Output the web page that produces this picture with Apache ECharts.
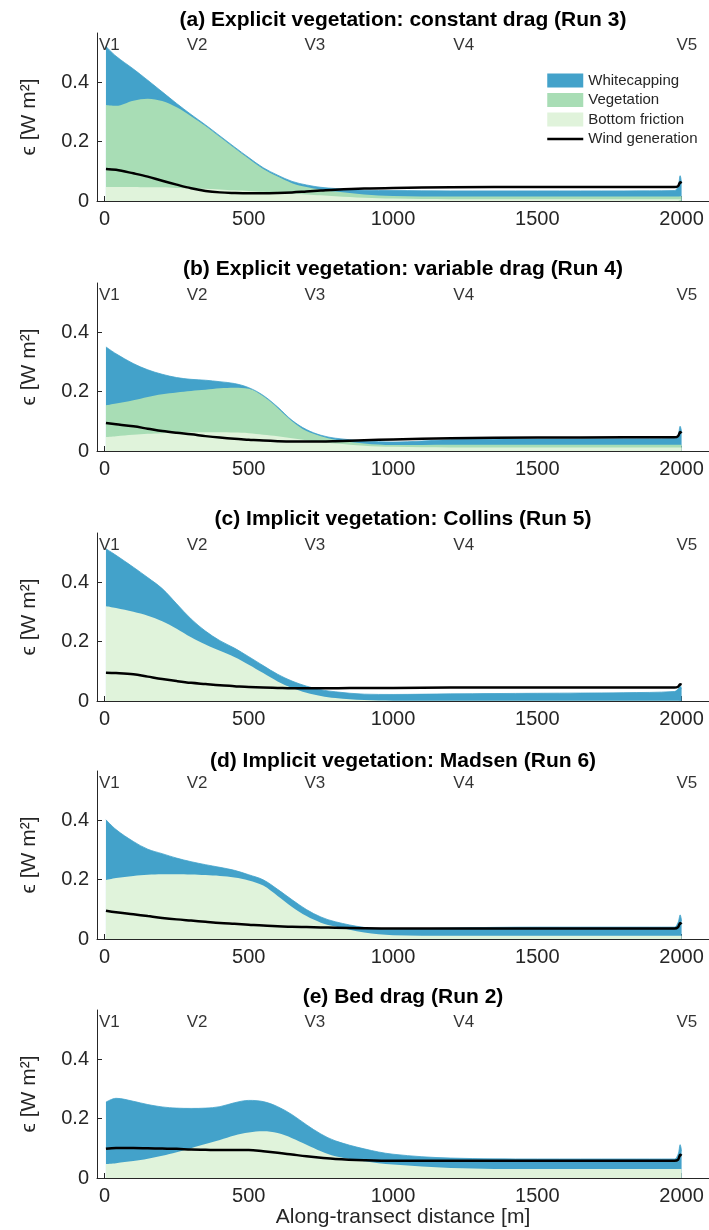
<!DOCTYPE html>
<html><head><meta charset="utf-8">
<script src="https://cdn.jsdelivr.net/npm/echarts@6/dist/echarts.min.js"></script>
<style>html,body{margin:0;padding:0;background:#fff}#c{width:709px;height:1230px}</style>
</head><body><div id="c"></div>
<script>
// along-transect distance [m]
const distance = [5, 40, 100, 150, 200, 250, 300, 350, 400, 450, 500, 550, 600, 650, 700, 750, 800, 900, 1000, 1200, 1500, 1800, 1975, 1988, 1995, 2000];

const panelTitles = [
  '(a) Explicit vegetation: constant drag (Run 3)',
  '(b) Explicit vegetation: variable drag (Run 4)',
  '(c) Implicit vegetation: Collins (Run 5)',
  '(d) Implicit vegetation: Madsen (Run 6)',
  '(e) Bed drag (Run 2)'
];

const stationNames = ['V1', 'V2', 'V3', 'V4', 'V5'];
const stationX = [17, 321, 729, 1245, 2018];
const stationY = 0.522;

const xTicks = [0, 500, 1000, 1500, 2000];
const yTicks = [0, 0.2, 0.4];

// (a) Run 3
const bfA   = [0.047,0.047,0.047,0.046,0.046,0.044,0.043,0.041,0.039,0.036,0.034,0.031,0.028,0.025,0.022,0.019,0.016,0.011,0.008,0.006,0.006,0.006,0.006,0.006,0.006,0.006];
const vegA  = [0.276,0.273,0.290,0.298,0.290,0.271,0.242,0.211,0.176,0.142,0.108,0.077,0.054,0.035,0.025,0.019,0.016,0.011,0.009,0.009,0.009,0.009,0.009,0.009,0.010,0.010];
const wcA   = [0.197,0.167,0.107,0.062,0.031,0.013,0.006,0.004,0.004,0.004,0.004,0.004,0.005,0.006,0.007,0.008,0.010,0.014,0.018,0.019,0.019,0.019,0.020,0.035,0.069,0.044];
const windA = [0.108,0.105,0.093,0.082,0.068,0.055,0.043,0.034,0.029,0.027,0.026,0.026,0.027,0.029,0.032,0.035,0.038,0.042,0.044,0.046,0.047,0.047,0.047,0.050,0.063,0.060];

// (b) Run 4
const bfB   = [0.047,0.050,0.055,0.058,0.060,0.062,0.063,0.063,0.063,0.062,0.060,0.055,0.050,0.043,0.036,0.030,0.025,0.018,0.014,0.012,0.012,0.012,0.012,0.012,0.012,0.012];
const vegB  = [0.107,0.110,0.116,0.124,0.131,0.135,0.139,0.143,0.148,0.151,0.149,0.129,0.095,0.057,0.031,0.020,0.013,0.007,0.006,0.009,0.009,0.009,0.009,0.009,0.009,0.009];
const wcB   = [0.196,0.167,0.123,0.091,0.067,0.050,0.039,0.032,0.022,0.014,0.004,0.003,0.003,0.003,0.005,0.003,0.005,0.009,0.010,0.017,0.019,0.020,0.021,0.034,0.062,0.044];
const windB = [0.094,0.090,0.083,0.075,0.067,0.061,0.056,0.050,0.045,0.041,0.038,0.035,0.033,0.032,0.032,0.032,0.033,0.036,0.039,0.043,0.045,0.046,0.046,0.050,0.064,0.060];

// (c) Run 5
const bfC   = [0.319,0.313,0.300,0.287,0.268,0.243,0.214,0.190,0.169,0.148,0.122,0.094,0.066,0.044,0.028,0.017,0.010,0.003,0.001,0.001,0.001,0.001,0.001,0.001,0.001,0.001];
const wcC   = [0.193,0.177,0.150,0.128,0.110,0.084,0.062,0.045,0.034,0.030,0.027,0.025,0.024,0.023,0.022,0.021,0.021,0.020,0.021,0.023,0.025,0.027,0.031,0.039,0.051,0.039];
const windC = [0.095,0.094,0.090,0.082,0.074,0.067,0.061,0.057,0.053,0.050,0.047,0.045,0.044,0.043,0.043,0.043,0.043,0.044,0.044,0.045,0.045,0.045,0.045,0.048,0.056,0.054];

// (d) Run 6
const bfD   = [0.198,0.205,0.212,0.216,0.218,0.218,0.217,0.215,0.212,0.207,0.197,0.180,0.145,0.108,0.077,0.055,0.042,0.022,0.013,0.011,0.011,0.011,0.011,0.011,0.011,0.011];
const wcD   = [0.203,0.163,0.116,0.086,0.069,0.054,0.043,0.035,0.029,0.024,0.019,0.019,0.022,0.024,0.022,0.019,0.016,0.017,0.020,0.026,0.029,0.029,0.029,0.045,0.070,0.050];
const windD = [0.095,0.090,0.083,0.077,0.071,0.066,0.062,0.058,0.054,0.051,0.048,0.045,0.043,0.041,0.040,0.039,0.038,0.036,0.035,0.035,0.035,0.035,0.035,0.040,0.054,0.050];

// (e) Run 2
const bfE   = [0.047,0.050,0.057,0.065,0.075,0.087,0.100,0.114,0.128,0.143,0.153,0.157,0.151,0.134,0.112,0.090,0.073,0.056,0.045,0.034,0.030,0.030,0.030,0.030,0.030,0.030];
const wcE   = [0.208,0.218,0.201,0.182,0.164,0.148,0.134,0.121,0.112,0.110,0.108,0.100,0.089,0.079,0.067,0.058,0.052,0.042,0.035,0.033,0.034,0.034,0.034,0.050,0.082,0.060];
const windE = [0.098,0.101,0.101,0.100,0.099,0.098,0.096,0.095,0.094,0.094,0.094,0.090,0.085,0.079,0.073,0.068,0.064,0.060,0.058,0.058,0.058,0.058,0.058,0.062,0.078,0.075];

const panels = [
  {bf: bfA, veg: vegA, wc: wcA, wind: windA},
  {bf: bfB, veg: vegB, wc: wcB, wind: windB},
  {bf: bfC, veg: null, wc: wcC, wind: windC},
  {bf: bfD, veg: null, wc: wcD, wind: windD},
  {bf: bfE, veg: null, wc: wcE, wind: windE}
];

const COL_WC = '#43a2ca', COL_VEG = '#a8ddb5', COL_BF = '#e0f3db';
const FONT = "'Liberation Sans', Arial, Helvetica, sans-serif";
const gridTops = [33, 283, 533, 771, 1010];
const titleTops = [9, 258, 508, 750, 986];
const gridH = 168;

// cumulative (stacked) tops built from the component arrays
const cum = arrs => distance.map((x, i) => [x, arrs.reduce((s, a) => s + (a ? a[i] : 0), 0)]);

const option = {
  animation: false,
  backgroundColor: '#fff',
  textStyle: {fontFamily: FONT},
  title: [], grid: [], xAxis: [], yAxis: [], series: [],
  legend: {
    orient: 'vertical', left: 546, top: 73, padding: 0,
    itemWidth: 36, itemHeight: 14, itemGap: 4.5,
    textStyle: {fontSize: 15, color: '#262626', lineHeight: 14, fontFamily: FONT},
    data: [
      {name: 'Whitecapping', icon: 'rect'},
      {name: 'Vegetation', icon: 'rect'},
      {name: 'Bottom friction', icon: 'rect'},
      {name: 'Wind generation', itemStyle: {opacity: 0}, lineStyle: {color: '#000', width: 2.5}}
    ]
  }
};

panels.forEach((p, i) => {
  option.title.push({
    text: panelTitles[i], left: 403, top: titleTops[i], textAlign: 'center', padding: 0,
    textStyle: {fontSize: 21, fontWeight: 'bold', color: '#000', lineHeight: 22, fontFamily: FONT}
  });
  option.grid.push({left: 97, right: 0, top: gridTops[i], height: gridH, containLabel: false});
  option.xAxis.push({
    type: 'value', gridIndex: i, min: -26, max: 2095,
    name: i === 4 ? 'Along-transect distance [m]' : '',
    nameLocation: 'middle', nameGap: 29,
    nameTextStyle: {fontSize: 21, color: '#262626', fontFamily: FONT},
    axisLine: {show: true, onZero: false, lineStyle: {color: '#262626', width: 1}},
    axisTick: {show: true, inside: true, length: 5, customValues: xTicks, lineStyle: {color: '#262626'}},
    axisLabel: {show: true, customValues: xTicks, margin: 8, fontSize: 20, color: '#262626', fontFamily: FONT,
      formatter: v => String(v)},
    splitLine: {show: false}
  });
  option.yAxis.push({
    type: 'value', gridIndex: i, min: 0, max: 0.565,
    name: 'ϵ [W m²]', nameLocation: 'middle', nameGap: 57, nameRotate: 90, nameMoveOverlap: false,
    nameTextStyle: {fontSize: 21, color: '#262626', fontFamily: FONT},
    axisLine: {show: true, onZero: false, lineStyle: {color: '#262626', width: 1}},
    axisTick: {show: true, inside: true, length: 5, customValues: yTicks, lineStyle: {color: '#262626'}},
    axisLabel: {show: true, customValues: yTicks, margin: 8, fontSize: 20, color: '#262626', fontFamily: FONT,
      formatter: v => String(v)},
    splitLine: {show: false}
  });
  const areaBase = {
    type: 'line', xAxisIndex: i, yAxisIndex: i,
    smooth: 0.35, showSymbol: false, symbol: 'none', silent: true
  };
  // whitecapping (top of stack) first, then lower layers drawn over it
  option.series.push(Object.assign({}, areaBase, {
    name: 'Whitecapping', data: cum([p.bf, p.veg, p.wc]), color: COL_WC,
    itemStyle: {color: COL_WC}, lineStyle: {width: 0.8, color: COL_WC},
    areaStyle: {color: COL_WC, opacity: 1, origin: 'start'}, z: 2
  }));
  if (p.veg) {
    option.series.push(Object.assign({}, areaBase, {
      name: 'Vegetation', data: cum([p.bf, p.veg]), color: COL_VEG,
      itemStyle: {color: COL_VEG}, lineStyle: {width: 0, color: COL_VEG},
      areaStyle: {color: COL_VEG, opacity: 1, origin: 'start'}, z: 3
    }));
  }
  option.series.push(Object.assign({}, areaBase, {
    name: 'Bottom friction', data: cum([p.bf]), color: COL_BF,
    itemStyle: {color: COL_BF}, lineStyle: {width: 0, color: COL_BF},
    areaStyle: {color: COL_BF, opacity: 1, origin: 'start'}, z: 4
  }));
  option.series.push({
    type: 'line', name: 'Wind generation', xAxisIndex: i, yAxisIndex: i,
    data: cum([p.wind]), smooth: 0.35, showSymbol: false, symbol: 'none',
    color: '#000', itemStyle: {color: '#000'}, lineStyle: {color: '#000', width: 2.5}, z: 6, silent: true
  });
  option.series.push({
    type: 'scatter', xAxisIndex: i, yAxisIndex: i, symbolSize: 1, silent: true,
    itemStyle: {color: 'rgba(0,0,0,0)'}, z: 7,
    data: stationNames.map((n, k) => ({name: n, value: [stationX[k], stationY]})),
    label: {show: true, position: 'inside', formatter: '{b}', fontSize: 17, color: '#000', fontFamily: FONT}
  });
});

const chart = echarts.init(document.getElementById('c'), null, {renderer: 'canvas'});
chart.setOption(option);
</script>
</body></html>
